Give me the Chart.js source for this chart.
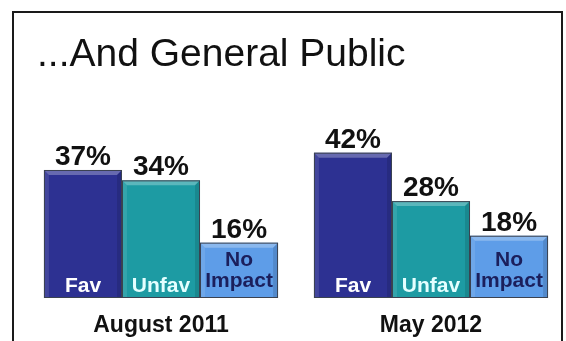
<!DOCTYPE html>
<html>
<head>
<meta charset="utf-8">
<script src="https://cdn.jsdelivr.net/npm/chart.js@4.4.1/dist/chart.umd.min.js"></script>
<style>
  html, body { margin: 0; padding: 0; background: #fff; }
</style>
</head>
<body>
<canvas id="myChart" width="566" height="341"></canvas>
<script>
// Chart data
const chartTitle = '...And General Public';
const periods = ['August 2011', 'May 2012'];
const favValues = [37, 42];
const unfavValues = [34, 28];
const noImpactValues = [16, 18];
const seriesNames = ['Fav', 'Unfav', 'No Impact'];

// Bar fill and inside-label colour for each series
const barColors = ['#2d3192', '#1d9ba3', '#5e9de8'];
const innerLabelColors = ['#ffffff', '#e4ffff', '#1b1f5c'];

// Frame, title, bevels and value labels
const decorPlugin = {
    id: 'decor',
    beforeDraw(chart) {
        const c = chart.ctx;
        c.save();
        c.fillStyle = '#fff';
        c.fillRect(0, 0, chart.width, chart.height);
        c.strokeStyle = '#1a1a1a';
        c.lineWidth = 2;
        c.strokeRect(13, 12, 549, 345);
        c.fillStyle = '#111';
        c.font = '39px "Liberation Sans", Arial, sans-serif';
        c.textBaseline = 'alphabetic';
        c.textAlign = 'left';
        c.fillText(chartTitle, 37, 66);
        c.restore();
    },
    afterDatasetsDraw(chart) {
        const c = chart.ctx;
        c.save();
        chart.data.datasets.forEach((ds, i) => {
            const meta = chart.getDatasetMeta(i);
            meta.data.forEach((bar, j) => {
                const left = bar.x - bar.width / 2;
                const right = bar.x + bar.width / 2;
                const top = bar.y;
                const base = bar.base;
                const b = 5;
                // top bevel
                c.fillStyle = 'rgba(255,255,255,0.28)';
                c.beginPath();
                c.moveTo(left, top); c.lineTo(right, top);
                c.lineTo(right - b, top + b); c.lineTo(left + b, top + b);
                c.closePath(); c.fill();
                // left bevel
                c.fillStyle = 'rgba(255,255,255,0.10)';
                c.beginPath();
                c.moveTo(left, top); c.lineTo(left + b, top + b);
                c.lineTo(left + b, base); c.lineTo(left, base);
                c.closePath(); c.fill();
                // right bevel
                c.fillStyle = 'rgba(0,0,0,0.12)';
                c.beginPath();
                c.moveTo(right, top); c.lineTo(right - b, top + b);
                c.lineTo(right - b, base); c.lineTo(right, base);
                c.closePath(); c.fill();
                // outline
                c.strokeStyle = '#3b4250';
                c.lineWidth = 1;
                c.strokeRect(left + 0.5, top + 0.5, bar.width - 1, base - top - 1);

                // value above the bar
                c.fillStyle = '#111';
                c.font = 'bold 28px "Liberation Sans", Arial, sans-serif';
                c.textAlign = 'center';
                c.textBaseline = 'alphabetic';
                c.fillText(ds.data[j] + '%', bar.x, top - 5);

                // series name inside the bar
                c.fillStyle = innerLabelColors[i];
                c.font = 'bold 21px "Liberation Sans", Arial, sans-serif';
                const lines = ds.label.split(' ');
                if (lines.length > 1) {
                    c.fillText(lines[0], bar.x, base - 32);
                    c.fillText(lines[1], bar.x, base - 11);
                } else {
                    c.fillText(ds.label, bar.x, base - 6);
                }
            });
        });
        c.restore();
    }
};

const ctx = document.getElementById('myChart').getContext('2d');
const chart = new Chart(ctx, {
    type: 'bar',
    data: {
        labels: periods,
        datasets: [
            { label: seriesNames[0], data: favValues, backgroundColor: barColors[0] },
            { label: seriesNames[1], data: unfavValues, backgroundColor: barColors[1] },
            { label: seriesNames[2], data: noImpactValues, backgroundColor: barColors[2] }
        ]
    },
    options: {
        responsive: false,
        animation: false,
        layout: { padding: { top: 125, left: 26, right: 0, bottom: 0 } },
        datasets: {
            bar: { barPercentage: 1.0, categoryPercentage: 0.867, borderWidth: 0 }
        },
        plugins: {
            legend: { display: false },
            title: { display: false },
            tooltip: { enabled: false }
        },
        scales: {
            x: {
                offset: true,
                grid: { display: false, drawTicks: false },
                border: { display: false },
                ticks: {
                    color: '#111',
                    padding: 14,
                    font: { family: '"Liberation Sans", Arial, sans-serif', size: 23, weight: 'bold' }
                },
                afterFit: (scale) => { scale.height = 43; }
            },
            y: {
                display: false,
                min: 0,
                max: 50
            }
        }
    },
    plugins: [decorPlugin]
});
</script>
</body>
</html>
